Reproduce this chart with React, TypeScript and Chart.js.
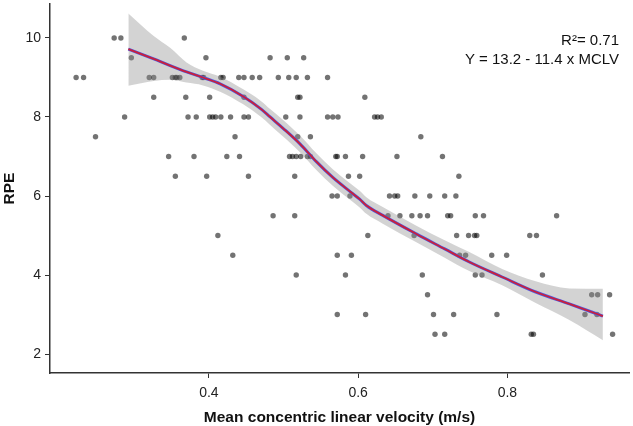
import { useEffect, useRef } from "react";
import { Chart, registerables } from "chart.js";

Chart.register(...registerables);

// RPE levels and the mean concentric linear velocity (m/s) of observations at each level
const rpeLevels = [10, 9.5, 9, 8.5, 8, 7.5, 7, 6.5, 6, 5.5, 5, 4.5, 4, 3.5, 3, 2.5];
const velocityAtLevel: number[][] = [
  [0.273, 0.282, 0.367],
  [0.296, 0.396, 0.482, 0.505, 0.527],
  [0.222, 0.232, 0.32, 0.326, 0.351, 0.355, 0.357, 0.361, 0.391, 0.393, 0.416, 0.419, 0.44, 0.447, 0.458, 0.468, 0.493, 0.507, 0.517, 0.532, 0.559],
  [0.326, 0.369, 0.401, 0.447, 0.519, 0.522, 0.609],
  [0.287, 0.372, 0.383, 0.401, 0.405, 0.409, 0.416, 0.429, 0.447, 0.453, 0.503, 0.522, 0.559, 0.566, 0.573, 0.622, 0.626, 0.631],
  [0.248, 0.435, 0.519, 0.536, 0.684],
  [0.346, 0.38, 0.424, 0.441, 0.508, 0.512, 0.517, 0.523, 0.532, 0.536, 0.57, 0.572, 0.583, 0.606, 0.652, 0.713],
  [0.355, 0.397, 0.453, 0.515, 0.587, 0.602, 0.735],
  [0.565, 0.572, 0.589, 0.642, 0.649, 0.653, 0.676, 0.696, 0.716, 0.731],
  [0.486, 0.515, 0.64, 0.656, 0.672, 0.683, 0.693, 0.72, 0.724, 0.757, 0.768, 0.866],
  [0.412, 0.613, 0.675, 0.732, 0.748, 0.756, 0.759, 0.83, 0.839],
  [0.432, 0.572, 0.591, 0.736, 0.744, 0.779, 0.799],
  [0.517, 0.583, 0.686, 0.757, 0.766, 0.847],
  [0.693, 0.913, 0.921, 0.937],
  [0.572, 0.61, 0.701, 0.728, 0.786, 0.904, 0.92],
  [0.703, 0.716, 0.832, 0.835, 0.941],
];

// Smoothed fit and its confidence band
const fitX = [0.292, 0.326, 0.348, 0.37, 0.392, 0.415, 0.446, 0.47, 0.482, 0.499, 0.522, 0.544, 0.566, 0.59, 0.602, 0.611, 0.633, 0.678, 0.716, 0.749, 0.793, 0.838, 0.883, 0.928];
const fitY = [9.72, 9.47, 9.3, 9.14, 9.0, 8.84, 8.52, 8.2, 8.0, 7.72, 7.32, 6.87, 6.47, 6.1, 5.92, 5.76, 5.51, 5.04, 4.66, 4.33, 3.95, 3.57, 3.27, 2.96];
const fitUpper = [10.62, 10.05, 9.75, 9.38, 9.17, 9.02, 8.7, 8.4, 8.2, 7.93, 7.53, 7.08, 6.68, 6.31, 6.13, 5.97, 5.72, 5.25, 4.88, 4.58, 4.15, 3.84, 3.66, 3.65];
const fitLower = [8.79, 8.91, 8.94, 8.87, 8.8, 8.64, 8.32, 8.0, 7.8, 7.51, 7.11, 6.66, 6.26, 5.89, 5.71, 5.55, 5.3, 4.83, 4.44, 4.1, 3.74, 3.29, 2.86, 2.35];

const xTicks = [0.4, 0.6, 0.8];
const yTicks = [2, 4, 6, 8, 10];
const annotationLines = ["R\u00B2= 0.71", "Y = 13.2 - 11.4 x MCLV"];

const FONT = '"Liberation Sans", Arial, Helvetica, sans-serif';

export default function App() {
  const ref = useRef<HTMLCanvasElement | null>(null);

  useEffect(() => {
    if (!ref.current) return;
    const points: { x: number; y: number }[] = [];
    rpeLevels.forEach((lvl, i) => {
      velocityAtLevel[i].forEach((v) => points.push({ x: v, y: lvl }));
    });
    const toXY = (ys: number[]) => fitX.map((x, i) => ({ x, y: ys[i] }));

    const annotate = {
      id: "annotate",
      afterDraw(chart: any) {
        const { ctx, chartArea } = chart;
        ctx.save();
        ctx.font = `15px ${FONT}`;
        ctx.fillStyle = "#111";
        ctx.textAlign = "right";
        ctx.textBaseline = "middle";
        ctx.fillText(annotationLines[0], chartArea.right - 10, chartArea.top + 37);
        ctx.fillText(annotationLines[1], chartArea.right - 10, chartArea.top + 56);
        ctx.restore();
      },
    };

    const chart = new Chart(ref.current, {
      type: "line",
      data: {
        datasets: [
          {
            label: "fit-red",
            data: toXY(fitY),
            borderColor: "#c8203c",
            borderWidth: 1.8,
            pointRadius: 0,
            fill: false,
            cubicInterpolationMode: "monotone",
            order: 1,
          },
          {
            label: "fit-blue",
            data: toXY(fitY),
            borderColor: "#4f5ae0",
            borderWidth: 3,
            pointRadius: 0,
            fill: false,
            cubicInterpolationMode: "monotone",
            order: 2,
          },
          {
            label: "upper",
            data: toXY(fitUpper),
            borderWidth: 0,
            borderColor: "rgba(0,0,0,0)",
            backgroundColor: "rgba(140,140,140,0.38)",
            pointRadius: 0,
            fill: "+1",
            cubicInterpolationMode: "monotone",
            order: 3,
          },
          {
            label: "lower",
            data: toXY(fitLower),
            borderWidth: 0,
            borderColor: "rgba(0,0,0,0)",
            pointRadius: 0,
            fill: false,
            cubicInterpolationMode: "monotone",
            order: 4,
          },
          {
            label: "obs",
            data: points,
            showLine: false,
            pointRadius: 2.7,
            pointBorderWidth: 0,
            pointBackgroundColor: "rgba(0,0,0,0.55)",
            pointBorderColor: "rgba(0,0,0,0)",
            order: 5,
          },
        ],
      },
      options: {
        animation: false,
        responsive: false,
        maintainAspectRatio: false,
        layout: { padding: { top: 3, right: 3, left: 0, bottom: 0 } },
        plugins: { legend: { display: false }, tooltip: { enabled: false } },
        scales: {
          x: {
            type: "linear",
            min: 0.187,
            max: 0.963,
            afterBuildTicks: (s: any) => {
              s.ticks = xTicks.map((v) => ({ value: v }));
            },
            afterFit: (s: any) => {
              s.height = 53;
              s.paddingLeft = 0;
              s.paddingRight = 0;
            },
            ticks: {
              color: "#222",
              font: { family: FONT, size: 14 },
              padding: 7,
              callback: (v: any) => Number(v).toFixed(1),
            },
            grid: { drawOnChartArea: false, drawTicks: true, tickLength: 5, color: "#333", lineWidth: 1 },
            border: { display: true, color: "#333", width: 1.5 },
            title: {
              display: true,
              text: "Mean concentric linear velocity (m/s)",
              color: "#111",
              font: { family: FONT, size: 15.5, weight: "bold" },
              padding: { top: 0, bottom: -1 },
            },
          },
          y: {
            type: "linear",
            min: 1.52,
            max: 10.86,
            afterBuildTicks: (s: any) => {
              s.ticks = yTicks.map((v) => ({ value: v }));
            },
            afterFit: (s: any) => {
              s.width = 50;
              s.paddingTop = 0;
              s.paddingBottom = 0;
            },
            ticks: {
              color: "#222",
              font: { family: FONT, size: 14 },
              padding: 4,
              callback: (v: any) => String(v),
            },
            grid: { drawOnChartArea: false, drawTicks: true, tickLength: 5, color: "#333", lineWidth: 1 },
            border: { display: true, color: "#333", width: 1.5 },
            title: {
              display: true,
              text: "RPE",
              color: "#111",
              font: { family: FONT, size: 15.5, weight: "bold" },
              padding: { top: 0, bottom: 0 },
            },
          },
        },
      },
      plugins: [annotate],
    } as any);

    return () => chart.destroy();
  }, []);

  return (
    <div style={{ position: "fixed", left: 0, top: 0, width: 633, height: 426, background: "#fff" }}>
      <canvas ref={ref} width={633} height={426} />
    </div>
  );
}
